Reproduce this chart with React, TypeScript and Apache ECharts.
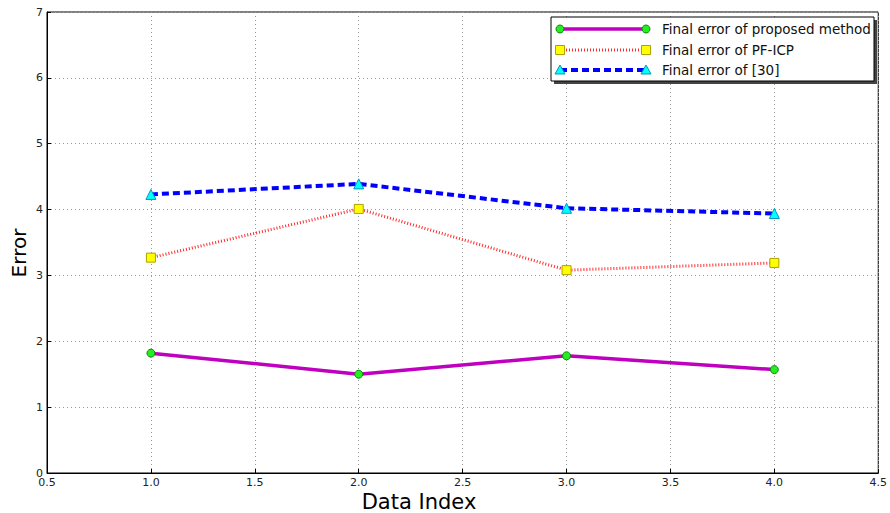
import React, { useEffect, useRef } from "react";
import * as echarts from "echarts";

const dataIndex = [1.0, 2.0, 3.0, 4.0];
const proposedError = [1.82, 1.5, 1.78, 1.57];
const pficpError = [3.27, 4.01, 3.08, 3.19];
const ref30Error = [4.23, 4.39, 4.02, 3.94];

const seriesNames = [
  "Final error of proposed method",
  "Final error of PF-ICP",
  "Final error of [30]",
];

const FONT = "DejaVu Sans";

const pairs = (ys: number[]) => dataIndex.map((x, i) => [x, ys[i]]);

export default function App() {
  const ref = useRef<HTMLDivElement>(null);

  useEffect(() => {
    if (!ref.current) return;
    const chart = echarts.init(ref.current, null, { renderer: "svg" });

    // legend drawn by hand: a sample line with a marker at both ends
    const lx0 = 560;
    const lx1 = 646;
    const rows = [29, 50, 70];
    const legendItems: any[] = [
      { type: "rect", shape: { x: 554, y: 20, width: 323, height: 64 }, style: { fill: "#444" }, z: 100 },
      { type: "rect", shape: { x: 551, y: 17, width: 323, height: 64 }, style: { fill: "#fff", stroke: "#000", lineWidth: 1 }, z: 101 },
      // proposed
      { type: "line", shape: { x1: lx0, y1: rows[0], x2: lx1, y2: rows[0] }, style: { stroke: "#bf00bf", lineWidth: 3.5 }, z: 102 },
      { type: "circle", shape: { cx: lx0, cy: rows[0], r: 4 }, style: { fill: "#22ee22", stroke: "#118811", lineWidth: 1 }, z: 103 },
      { type: "circle", shape: { cx: lx1, cy: rows[0], r: 4 }, style: { fill: "#22ee22", stroke: "#118811", lineWidth: 1 }, z: 103 },
      // PF-ICP
      { type: "line", shape: { x1: lx0, y1: rows[1], x2: lx1, y2: rows[1] }, style: { stroke: "#ff2a2a", lineWidth: 3, lineDash: [1, 2] }, z: 102 },
      { type: "rect", shape: { x: lx0 - 4.5, y: rows[1] - 4.5, width: 9, height: 9 }, style: { fill: "#ffff00", stroke: "#b0a000", lineWidth: 1 }, z: 103 },
      { type: "rect", shape: { x: lx1 - 4.5, y: rows[1] - 4.5, width: 9, height: 9 }, style: { fill: "#ffff00", stroke: "#b0a000", lineWidth: 1 }, z: 103 },
      // [30]
      { type: "line", shape: { x1: lx0, y1: rows[2], x2: lx1, y2: rows[2] }, style: { stroke: "#0000ff", lineWidth: 4, lineDash: [7, 4] }, z: 102 },
      { type: "polygon", shape: { points: [[lx0, rows[2] - 5], [lx0 - 5, rows[2] + 4], [lx0 + 5, rows[2] + 4]] }, style: { fill: "#00ffff", stroke: "#0099bb", lineWidth: 1 }, z: 103 },
      { type: "polygon", shape: { points: [[lx1, rows[2] - 5], [lx1 - 5, rows[2] + 4], [lx1 + 5, rows[2] + 4]] }, style: { fill: "#00ffff", stroke: "#0099bb", lineWidth: 1 }, z: 103 },
    ];
    seriesNames.forEach((name, i) => {
      legendItems.push({
        type: "text",
        x: 662,
        y: rows[i],
        style: { text: name, fill: "#111", font: `13.5px '${FONT}'`, verticalAlign: "middle", align: "left" },
        z: 103,
      });
    });

    const option: any = {
      animation: false,
      backgroundColor: "#fff",
      textStyle: { fontFamily: FONT },
      grid: {
        left: 47,
        right: 10,
        top: 12,
        bottom: 40,
        show: true,
        borderColor: "#000",
        borderWidth: 1,
        backgroundColor: "transparent",
      },
      xAxis: {
        type: "value",
        min: 0.5,
        max: 4.5,
        interval: 0.5,
        axisLine: { show: true, lineStyle: { color: "#000", width: 1 } },
        axisTick: { show: true, inside: true, length: 4, lineStyle: { color: "#000" } },
        axisLabel: {
          color: "#222",
          fontSize: 11,
          fontFamily: FONT,
          margin: 4,
          formatter: (v: number) => v.toFixed(1),
        },
        splitLine: { show: true, lineStyle: { color: "#999", type: [1, 3], width: 1 } },
      },
      yAxis: {
        type: "value",
        min: 0,
        max: 7,
        interval: 1,
        axisLine: { show: true, lineStyle: { color: "#000", width: 1 } },
        axisTick: { show: true, inside: true, length: 4, lineStyle: { color: "#000" } },
        axisLabel: { color: "#222", fontSize: 11, fontFamily: FONT, margin: 4 },
        splitLine: { show: true, lineStyle: { color: "#999", type: [1, 3], width: 1 } },
      },
      series: [
        {
          name: seriesNames[0],
          type: "line",
          data: pairs(proposedError),
          symbol: "circle",
          symbolSize: 8,
          lineStyle: { color: "#bf00bf", width: 3.5 },
          itemStyle: { color: "#22ee22", borderColor: "#118811", borderWidth: 1 },
          z: 3,
        },
        {
          name: seriesNames[1],
          type: "line",
          data: pairs(pficpError),
          symbol: "rect",
          symbolSize: 9,
          lineStyle: { color: "#ff2a2a", width: 3, type: [1, 2] },
          itemStyle: { color: "#ffff00", borderColor: "#b0a000", borderWidth: 1 },
          z: 4,
        },
        {
          name: seriesNames[2],
          type: "line",
          data: pairs(ref30Error),
          symbol: "triangle",
          symbolSize: 10,
          lineStyle: { color: "#0000ff", width: 4, type: [7, 4] },
          itemStyle: { color: "#00ffff", borderColor: "#0099bb", borderWidth: 1 },
          z: 5,
        },
      ],
      graphic: [
        {
          type: "text",
          x: 19,
          y: 253,
          rotation: Math.PI / 2,
          style: { text: "Error", fill: "#000", font: `20px '${FONT}'`, align: "center", verticalAlign: "middle" },
        },
        {
          type: "text",
          x: 419,
          y: 502,
          style: { text: "Data Index", fill: "#000", font: `21px '${FONT}'`, align: "center", verticalAlign: "middle" },
        },
        ...legendItems,
      ],
    };

    chart.setOption(option);
    return () => chart.dispose();
  }, []);

  return <div ref={ref} style={{ width: 890, height: 513, position: "absolute", left: 0, top: 0 }} />;
}
